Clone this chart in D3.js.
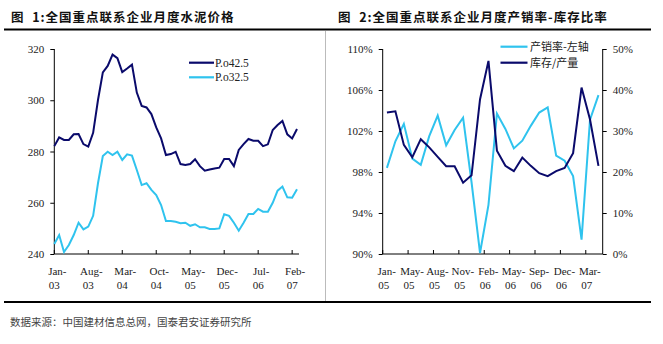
<!DOCTYPE html>
<html><head><meta charset="utf-8">
<script src="https://cdn.jsdelivr.net/npm/d3@7"></script>
<style>body{margin:0;background:#fff}svg{display:block}</style>
</head><body>
<svg id="c" width="663" height="344"></svg>
<script>
// ---- Left chart data ----
const monthsL = (function(){const m=["Jan","Feb","Mar","Apr","May","Jun","Jul","Aug","Sep","Oct","Nov","Dec"];const r=[];for(let y=3;y<=7;y++)for(let k=0;k<12;k++){r.push(m[k]+"-0"+y);}return r.slice(0,51);})();
const tickLabelsL = ["Jan-03","Aug-03","Mar-04","Oct-04","May-05","Dec-05","Jul-06","Feb-07"];
const po425 = [282.1,285.5,284.5,284.5,286.7,286.8,282.9,281.9,287.3,300.1,310.9,313.4,317.8,316.4,311.0,312.4,313.9,303.0,297.8,297.2,294.6,289.4,285.1,278.6,279.0,279.9,275.1,274.7,275.1,277.0,274.3,272.5,273.0,273.4,273.7,277.1,277.1,274.3,280.6,282.9,284.9,284.2,284.2,282.1,282.8,288.4,290.3,291.9,286.7,285.1,288.8];
const po325 = [243.9,247.4,240.8,243.5,247.4,252.2,249.6,250.7,254.9,267.6,278.2,279.9,278.6,279.9,276.7,278.9,278.4,272.8,266.9,267.6,265.0,263.0,259.1,252.9,252.9,252.6,252.0,252.2,251.0,251.6,250.4,250.4,249.8,249.8,250.0,255.5,254.9,252.2,249.1,252.2,255.6,255.6,257.6,256.5,256.5,260.0,264.7,266.3,262.1,262.0,265.3];
const yTicksL = [240,260,280,300,320];
const legendL = ["P.o42.5","P.o32.5"];

// ---- Right chart data ----
const catsR = ["Jan-05","Mar-05","Apr-05","May-05","Jun-05","Jul-05","Aug-05","Sep-05","Oct-05","Nov-05","Dec-05","Jan-06","Feb-06","Mar-06","Apr-06","May-06","Jun-06","Jul-06","Sep-06","Oct-06","Nov-06","Dec-06","Jan-07","Feb-07","Mar-07","Apr-07"];
const tickLabelsR = ["Jan-05","May-05","Aug-05","Nov-05","Feb-06","May-06","Sep-06","Dec-06","Mar-07"];
const salesRate = [98.4,101.0,102.7,99.3,98.7,101.5,103.5,100.6,102.1,103.3,97.0,90.1,94.8,103.7,102.2,100.3,101.05,102.5,103.8,104.3,99.6,99.1,97.6,91.4,103.1,105.5];
const stockRatio = [34.5,34.8,26.6,23.6,28.0,26.0,23.7,21.4,21.4,17.4,19.2,37.7,47.1,25.2,21.5,20.2,23.5,21.5,19.7,19.0,20.2,21.0,24.6,40.6,32.8,21.5];
const yTicksRL = [90,94,98,102,106,110];
const yTicksRR = [0,10,20,30,40,50];
const legendR = ["产销率-左轴","库存/产量"];

const titleL = "图  1:全国重点联系企业月度水泥价格";
const titleR = "图  2:全国重点联系企业月度产销率-库存比率";
const source = "数据来源：中国建材信息总网，国泰君安证券研究所";

const DARK = "#0a0a6b", LIGHT = "#2fc3ee";
const serif = "'Liberation Serif','Times New Roman',serif";
const cjk = "'Noto Sans CJK SC',sans-serif";

const svg = d3.select("#c");

// frame lines
svg.append("line").attr("x1",4).attr("x2",651).attr("y1",29.5).attr("y2",29.5).attr("stroke","#000").attr("stroke-width",2.2);
svg.append("line").attr("x1",4).attr("x2",651).attr("y1",302).attr("y2",302).attr("stroke","#000").attr("stroke-width",2.2);
svg.append("line").attr("x1",325.5).attr("x2",325.5).attr("y1",31).attr("y2",301).attr("stroke","#bbb").attr("stroke-width",1);

svg.append("text").attr("x",11).attr("y",22).style("white-space","pre").attr("font-family",cjk).attr("font-weight","bold").attr("font-size",12.5).attr("letter-spacing",1.0).attr("fill","#111").text(titleL);
svg.append("text").attr("x",338).attr("y",22).style("white-space","pre").attr("font-family",cjk).attr("font-weight","bold").attr("font-size",12.5).attr("letter-spacing",1.0).attr("fill","#111").text(titleR);
svg.append("text").attr("x",10).attr("y",326).attr("font-family",cjk).attr("font-size",10.5).attr("fill","#444").text(source);

function xLabels(g, positions, labels){
  labels.forEach((l,i)=>{
    const [a,b] = l.split("-");
    const t = g.append("text").attr("x",positions[i]).attr("y",275).attr("text-anchor","middle")
      .attr("font-family",serif).attr("font-size",11).attr("fill","#222");
    t.append("tspan").attr("x",positions[i]).attr("dx",3).text(a+"-");
    t.append("tspan").attr("x",positions[i]).attr("dy",14).text(b);
  });
}

// ---- Left chart ----
{
  const g = svg.append("g");
  const x = d3.scalePoint().domain(monthsL).range([54.3,297]);
  const y = d3.scaleLinear().domain([240,320]).range([254,49]);
  const ax = g.append("g").attr("transform","translate(54.3,0)").call(d3.axisLeft(y).tickValues(yTicksL).tickSize(4).tickPadding(6));
  ax.selectAll("text").attr("font-family",serif).attr("font-size",11).attr("fill","#222");
  ax.select(".domain").attr("d","M0,254V49").attr("stroke","#000");
  const tickIdx = tickLabelsL.map(l=>monthsL.indexOf(l));
  g.append("line").attr("x1",54.3).attr("x2",299).attr("y1",254).attr("y2",254).attr("stroke","#000");
  tickIdx.forEach(i=>g.append("line").attr("x1",x(monthsL[i])).attr("x2",x(monthsL[i])).attr("y1",254).attr("y2",250).attr("stroke","#000"));
  xLabels(g, tickIdx.map(i=>x(monthsL[i])), tickLabelsL);
  const line = d3.line().x((d,i)=>x(monthsL[i])).y(d=>y(d));
  g.append("path").datum(po425).attr("d",line).attr("fill","none").attr("stroke",DARK).attr("stroke-width",2);
  g.append("path").datum(po325).attr("d",line).attr("fill","none").attr("stroke",LIGHT).attr("stroke-width",2);
  [[DARK,62.7,legendL[0]],[LIGHT,77.3,legendL[1]]].forEach(([c,yy,t])=>{
    g.append("line").attr("x1",189).attr("x2",214).attr("y1",yy).attr("y2",yy).attr("stroke",c).attr("stroke-width",2.2);
    g.append("text").attr("x",215).attr("y",yy+4).attr("font-family",serif).attr("font-size",11.5).attr("fill","#222").text(t);
  });
}

// ---- Right chart ----
{
  const g = svg.append("g");
  const L = 382.7, R = 602.7;
  const x = d3.scaleBand().domain(catsR).range([L,R]).padding(0);
  const cx = c => x(c)+x.bandwidth()/2;
  const yl = d3.scaleLinear().domain([90,110]).range([254,49]);
  const yr = d3.scaleLinear().domain([0,50]).range([254,49]);
  const axL = g.append("g").attr("transform",`translate(${L},0)`).call(d3.axisLeft(yl).tickValues(yTicksRL).tickSize(4).tickPadding(6).tickFormat(d=>d+"%"));
  axL.selectAll("text").attr("font-family",serif).attr("font-size",11).attr("fill","#222");
  axL.select(".domain").attr("d","M0,254V49").attr("stroke","#000");
  const axR = g.append("g").attr("transform",`translate(${R},0)`).call(d3.axisRight(yr).tickValues(yTicksRR).tickSize(4).tickPadding(6).tickFormat(d=>d+"%"));
  axR.selectAll("text").attr("font-family",serif).attr("font-size",11).attr("fill","#222");
  axR.select(".domain").attr("d","M0,254V49").attr("stroke","#000");
  g.append("line").attr("x1",L).attr("x2",R).attr("y1",254).attr("y2",254).attr("stroke","#000");
  const tickCats = catsR.filter((c,i)=>i%3===0 && i<=24);
  tickCats.forEach(c=>g.append("line").attr("x1",x(c)).attr("x2",x(c)).attr("y1",254).attr("y2",250).attr("stroke","#000"));
  xLabels(g, tickCats.map(c=>x(c)+1), tickLabelsR);
  const lineL = d3.line().x((d,i)=>cx(catsR[i])).y(d=>yl(d));
  const lineR = d3.line().x((d,i)=>cx(catsR[i])).y(d=>yr(d));
  g.append("path").datum(salesRate).attr("d",lineL).attr("fill","none").attr("stroke",LIGHT).attr("stroke-width",2);
  g.append("path").datum(stockRatio).attr("d",lineR).attr("fill","none").attr("stroke",DARK).attr("stroke-width",2);
  [[LIGHT,46.7,legendR[0]],[DARK,62.7,legendR[1]]].forEach(([c,yy,t])=>{
    g.append("line").attr("x1",500.5).attr("x2",527.5).attr("y1",yy).attr("y2",yy).attr("stroke",c).attr("stroke-width",2.2);
    g.append("text").attr("x",530).attr("y",yy+4).attr("font-family",cjk).attr("font-size",11).attr("fill","#222").text(t);
  });
}
</script>
</body></html>
